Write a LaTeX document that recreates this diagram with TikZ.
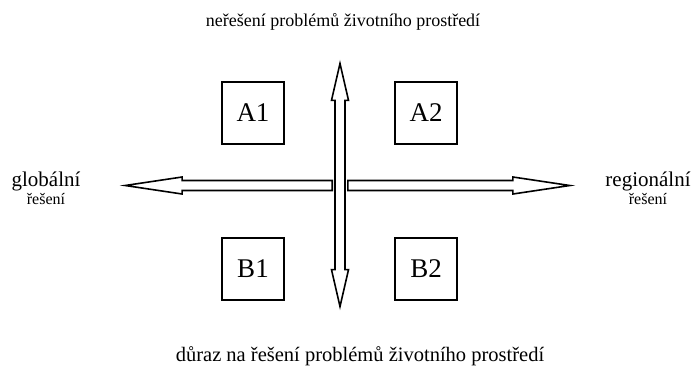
\documentclass[tikz,border=0pt]{standalone}
\usepackage{fontspec}
\setmainfont{Liberation Serif}
\usetikzlibrary{shapes,arrows,positioning}

\begin{document}
\begin{tikzpicture}[x=1pt, y=-1pt,
    quad/.style={rectangle, draw, line width=1.6pt, minimum size=62pt, inner sep=0pt, font=\fontsize{27}{30}\selectfont},
    axis/.style={single arrow, draw, fill=white, line width=1.6pt, minimum width=16pt, inner xsep=0pt, inner ysep=4.2pt, single arrow head extend=3.5pt, single arrow tip angle=17, anchor=tail},
    pole/.style={font=\fontsize{18}{20}\selectfont, align=center}
]
\useasboundingbox (0,0) rectangle (693,368);

% the four fields
\node[quad] (a1) at (253,113) {A1};
\node[quad] (a2) at (426,113) {A2};
\node[quad] (b1) at (253,269) {B1};
\node[quad] (b2) at (426,269) {B2};

% horizontal axis
\node[axis, minimum height=207pt, shape border rotate=180] (west) at (333,185.5) {};
\node[axis, minimum height=222pt] (east) at (347,185.5) {};

% vertical axis
\node[double arrow, draw, fill=white, line width=1.6pt, minimum width=16pt, inner xsep=4.2pt, inner ysep=0pt, double arrow head extend=3.5pt, double arrow tip angle=26, minimum height=243pt, shape border rotate=90] (vert) at (340,185) {};

% texts
\node[pole] (top) at (343,22) {neřešení problémů životního prostředí};
\node[pole, font=\fontsize{20.5}{22}\selectfont] (bottom) at (360,356) {důraz na řešení problémů životního prostředí};
\node[pole] (global) at (46,188) {{\fontsize{21}{22}\selectfont globální}\\[-2pt]{\fontsize{16}{18}\selectfont řešení}};
\node[pole] (region) at (648,188) {{\fontsize{21}{22}\selectfont regionální}\\[-2pt]{\fontsize{16}{18}\selectfont řešení}};
\end{tikzpicture}
\end{document}
